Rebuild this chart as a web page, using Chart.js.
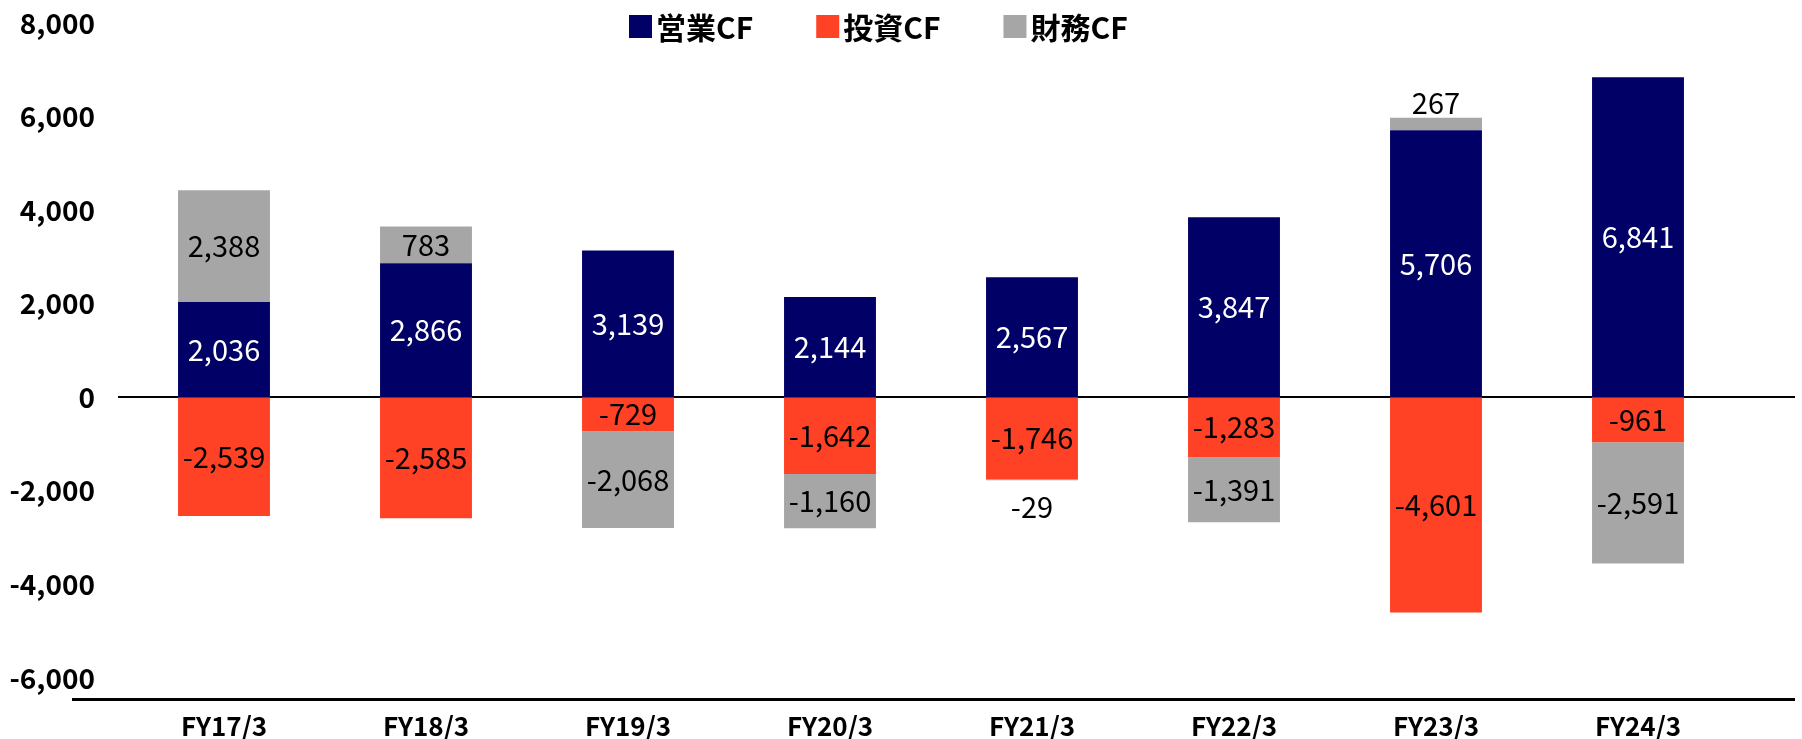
<!DOCTYPE html>
<html>
<head>
<meta charset="utf-8">
<script src="https://cdn.jsdelivr.net/npm/chart.js@4"></script>
<style>
    html, body { margin: 0; padding: 0; background: #fff; }
    #wrap { width: 1802px; height: 739px; position: relative; }
</style>
</head>
<body>
<div id="wrap"><canvas id="cfChart"></canvas></div>
<script>
// ── Data ────────────────────────────────────

const categories = ['FY17/3', 'FY18/3', 'FY19/3', 'FY20/3', 'FY21/3', 'FY22/3', 'FY23/3', 'FY24/3'];
const seriesNames = ['営業CF', '投資CF', '財務CF'];
const operatingCF = [2036, 2866, 3139, 2144, 2567, 3847, 5706, 6841];
const investingCF = [-2539, -2585, -729, -1642, -1746, -1283, -4601, -961];
const financingCF = [2388, 783, -2068, -1160, -29, -1391, 267, -2591];
const yTicks = [-6000, -4000, -2000, 0, 2000, 4000, 6000, 8000];

const FONT = "'Noto Sans CJK JP', 'Noto Sans', sans-serif";
const colors = {
    operating: '#000066',
    investing: '#FF4126',
    financing: '#A6A6A6',
    text: '#000000'
};

const fmt = v => v.toLocaleString('en-US');

// ── Plugins ─────────────────────────────────

// axis lines (zero line + bottom line)
const axisLines = {
    id: 'axisLines',
    beforeDatasetsDraw(chart) {
        const { ctx, scales: { y }, chartArea } = chart;
        ctx.save();
        ctx.strokeStyle = '#000';
        ctx.lineWidth = 2;
        const y0 = Math.round(y.getPixelForValue(0));
        ctx.beginPath();
        ctx.moveTo(118, y0);
        ctx.lineTo(1795, y0);
        ctx.stroke();
        ctx.lineWidth = 3;
        const yb = Math.round(chartArea.bottom) + 0.5;
        ctx.beginPath();
        ctx.moveTo(72, yb);
        ctx.lineTo(1795, yb);
        ctx.stroke();
        ctx.restore();
    }
};

// value labels inside / beside each segment
const valueLabels = {
    id: 'valueLabels',
    afterDatasetsDraw(chart) {
        const { ctx } = chart;
        ctx.save();
        ctx.font = `normal 29px ${FONT}`;
        ctx.textAlign = 'center';
        ctx.textBaseline = 'middle';
        chart.data.datasets.forEach((ds, di) => {
            const meta = chart.getDatasetMeta(di);
            meta.data.forEach((bar, i) => {
                const v = ds.data[i];
                const top = Math.min(bar.y, bar.base);
                const bottom = Math.max(bar.y, bar.base);
                let y = (top + bottom) / 2;
                if (bottom - top < 25) {
                    y = v > 0 ? top - 15 : bottom + 27;
                    ctx.fillStyle = colors.text;
                } else {
                    ctx.fillStyle = di === 0 ? '#fff' : colors.text;
                }
                ctx.fillText(fmt(v), bar.x, y);
            });
        });
        ctx.restore();
    }
};

// legend drawn at the top
const topLegend = {
    id: 'topLegend',
    afterDraw(chart) {
        const { ctx } = chart;
        ctx.save();
        ctx.font = `bold 30px ${FONT}`;
        ctx.textBaseline = 'middle';
        let x = 629;
        const cy = 27;
        chart.data.datasets.forEach(ds => {
            ctx.fillStyle = ds.backgroundColor;
            ctx.fillRect(x, cy - 12, 23, 23);
            x += 27;
            ctx.fillStyle = colors.text;
            ctx.fillText(ds.label, x, cy + 1);
            x += ctx.measureText(ds.label).width + 63;
        });
        ctx.restore();
    }
};

// ── Chart ───────────────────────────────────

new Chart(document.getElementById('cfChart'), {
    type: 'bar',
    data: {
        labels: categories,
        datasets: [
            { label: seriesNames[0], data: operatingCF, backgroundColor: colors.operating },
            { label: seriesNames[1], data: investingCF, backgroundColor: colors.investing },
            { label: seriesNames[2], data: financingCF, backgroundColor: colors.financing }
        ]
    },
    options: {
        responsive: true,
        maintainAspectRatio: false,
        animation: false,
        layout: { padding: { top: 23, right: 63, bottom: 0, left: 0 } },
        datasets: {
            bar: { categoryPercentage: 1, barPercentage: 0.455, borderWidth: 0 }
        },
        scales: {
            x: {
                stacked: true,
                grid: { display: false },
                border: { display: false },
                ticks: {
                    color: colors.text,
                    font: { family: FONT, size: 26, weight: 'bold' },
                    padding: 4
                },
                afterFit(scale) {
                    scale.height = 40;
                    scale.paddingLeft = 0;
                    scale.paddingRight = 0;
                }
            },
            y: {
                stacked: true,
                min: -6450,
                max: 8000,
                grid: { display: false, drawTicks: false },
                border: { display: false },
                afterBuildTicks(scale) {
                    scale.ticks = yTicks.map(v => ({ value: v }));
                },
                afterFit(scale) {
                    scale.width = 123;
                    scale.paddingTop = 0;
                    scale.paddingBottom = 0;
                },
                ticks: {
                    color: colors.text,
                    font: { family: FONT, size: 28, weight: 'bold' },
                    padding: 28,
                    callback: v => fmt(v)
                }
            }
        },
        plugins: {
            legend: { display: false },
            tooltip: { enabled: false }
        }
    },
    plugins: [axisLines, valueLabels, topLegend]
});
</script>
</body>
</html>
